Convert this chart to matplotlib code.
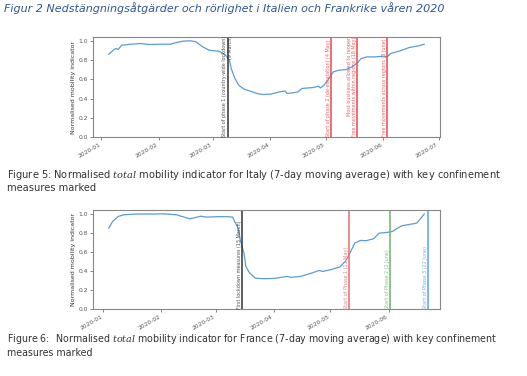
import matplotlib
matplotlib.use('Agg')
import matplotlib.pyplot as plt
import matplotlib.dates as mdates
import matplotlib.transforms as mtransforms
import pandas as pd

plt.rcParams['font.family'] = ['DejaVu Sans']
plt.rcParams['mathtext.fontset'] = 'dejavuserif'

# ── Data ──
italy_dates = ['2020-01-05', '2020-01-08', '2020-01-09', '2020-01-10', '2020-01-12',
               '2020-01-17', '2020-01-22', '2020-01-27', '2020-02-02', '2020-02-07',
               '2020-02-10', '2020-02-14', '2020-02-18', '2020-02-21', '2020-02-24',
               '2020-02-28', '2020-03-01', '2020-03-04', '2020-03-05', '2020-03-08',
               '2020-03-10', '2020-03-11', '2020-03-13', '2020-03-15', '2020-03-18',
               '2020-03-21', '2020-03-25', '2020-03-28', '2020-04-01', '2020-04-06',
               '2020-04-09', '2020-04-10', '2020-04-14', '2020-04-16', '2020-04-18',
               '2020-04-21', '2020-04-24', '2020-04-27', '2020-04-28', '2020-04-30',
               '2020-05-02', '2020-05-05', '2020-05-08', '2020-05-12', '2020-05-15',
               '2020-05-18', '2020-05-20', '2020-05-23', '2020-05-27', '2020-06-01',
               '2020-06-03', '2020-06-05', '2020-06-10', '2020-06-15', '2020-06-20',
               '2020-06-23']
italy_values = [0.861, 0.913, 0.920, 0.910, 0.955,
                0.965, 0.972, 0.962, 0.965, 0.965,
                0.980, 0.997, 1.000, 0.990, 0.945,
                0.903, 0.898, 0.893, 0.886, 0.851,
                0.800, 0.712, 0.608, 0.539, 0.497,
                0.479, 0.452, 0.442, 0.445, 0.469,
                0.479, 0.452, 0.462, 0.469, 0.504,
                0.510, 0.514, 0.528, 0.510, 0.539,
                0.591, 0.677, 0.695, 0.702, 0.729,
                0.771, 0.817, 0.833, 0.833, 0.840,
                0.833, 0.869, 0.896, 0.931, 0.948,
                0.965]

france_dates = ['2020-01-04', '2020-01-06', '2020-01-09', '2020-01-12', '2020-01-18',
                '2020-01-23', '2020-01-28', '2020-02-02', '2020-02-09', '2020-02-12',
                '2020-02-16', '2020-02-18', '2020-02-22', '2020-02-25', '2020-03-02',
                '2020-03-07', '2020-03-10', '2020-03-11', '2020-03-13', '2020-03-14',
                '2020-03-16', '2020-03-17', '2020-03-19', '2020-03-22', '2020-03-26',
                '2020-04-01', '2020-04-08', '2020-04-10', '2020-04-15', '2020-04-20',
                '2020-04-25', '2020-04-27', '2020-05-01', '2020-05-06', '2020-05-09',
                '2020-05-11', '2020-05-14', '2020-05-17', '2020-05-20', '2020-05-24',
                '2020-05-27', '2020-05-31', '2020-06-03', '2020-06-05', '2020-06-08',
                '2020-06-14', '2020-06-16', '2020-06-18', '2020-06-20']
france_values = [0.850, 0.919, 0.972, 0.990, 0.997,
                 0.998, 0.997, 1.000, 0.990, 0.972,
                 0.948, 0.955, 0.975, 0.965, 0.970,
                 0.970, 0.965, 0.919, 0.850, 0.727,
                 0.587, 0.447, 0.378, 0.325, 0.318,
                 0.321, 0.342, 0.332, 0.342, 0.370,
                 0.405, 0.395, 0.412, 0.441, 0.500,
                 0.570, 0.692, 0.720, 0.717, 0.738,
                 0.797, 0.804, 0.814, 0.839, 0.874,
                 0.895, 0.902, 0.948, 0.997]

italy_event_dates = ['2020-03-09', '2020-05-04', '2020-05-18', '2020-06-03']
italy_event_labels = ['Start of phase 1 (country-wide lockdown)\n(9 March)',
                      'Start of phase 2 (de-escalation) (4 May)',
                      'Most business allowed to reopen\nFree movements within regions (18 May)',
                      'Free movements across regions (3 June)']
italy_event_colors = ['#333333', '#e8484b', '#e8484b', '#e8484b']

france_event_dates = ['2020-03-15', '2020-05-11', '2020-06-02', '2020-06-22']
france_event_labels = ['First lockdown measures (15 March)',
                       'Start of Phase 1 (11 May)',
                       'Start of Phase 2 (2 June)',
                       'Start of Phase 3 (22 June)']
france_event_colors = ['#333333', '#ee6a6a', '#6ab46a', '#5aa2f0']

LINE_C = '#5b9bd5'
TXT = '#333333'


def _panel(ax, dates, values, ev_dates, ev_labels, ev_colors, ha_first='right'):
    ax.plot(pd.to_datetime(dates), values, color=LINE_C, lw=0.9)
    trans = mtransforms.blended_transform_factory(ax.transData, ax.transAxes)
    for i, (d, lab, c) in enumerate(zip(ev_dates, ev_labels, ev_colors)):
        dt = pd.Timestamp(d)
        ax.axvline(dt, color=c, lw=1.1)
        ha = ha_first if i == 0 else 'right'
        ax.text(dt, 0.005, lab, transform=trans, rotation=90, ha=ha, va='bottom',
                multialignment='right', fontsize=3.5, color=c, alpha=0.85)
    ax.set_ylim(0, 1.04)
    ax.set_yticks([0.0, 0.2, 0.4, 0.6, 0.8, 1.0])
    ax.set_ylabel('Normalised mobility indicator', fontsize=4.5, color=TXT, labelpad=2)
    ax.xaxis.set_major_locator(mdates.MonthLocator())
    ax.xaxis.set_major_formatter(mdates.DateFormatter('%Y-%m'))
    ax.tick_params(labelsize=4.3, length=2, width=0.5, pad=1.5, colors='#555555')
    for lab in ax.get_xticklabels():
        lab.set_rotation(30)
        lab.set_ha('right')
    for s in ax.spines.values():
        s.set_color('#888888')
        s.set_linewidth(0.8)


fig = plt.figure(figsize=(5.27, 3.76), dpi=100)
fig.patch.set_facecolor('white')

ax1 = fig.add_axes([0.1765, 0.6356, 0.6584, 0.2660])
_panel(ax1, italy_dates, italy_values, italy_event_dates, italy_event_labels,
       italy_event_colors, ha_first='center')

ax2 = fig.add_axes([0.1765, 0.1782, 0.6584, 0.2633])
_panel(ax2, france_dates, france_values, france_event_dates, france_event_labels,
       france_event_colors)

fig.text(0.008, 0.978, 'Figur 2 Nedstängningsåtgärder och rörlighet i Italien och Frankrike våren 2020',
         fontsize=8.0, style='italic', color='#2f5597', ha='left', va='center')

fig.text(0.014, 0.5346,
         r'Figure 5: Normalised $\mathit{total}$ mobility indicator for Italy (7-day moving average) with key confinement',
         fontsize=7.1, color=TXT, ha='left', va='center')
fig.text(0.014, 0.4995, 'measures marked', fontsize=7.1, color=TXT, ha='left', va='center')

fig.text(0.014, 0.0984,
         r'Figure 6:  Normalised $\mathit{total}$ mobility indicator for France (7-day moving average) with key confinement',
         fontsize=6.85, color=TXT, ha='left', va='center')
fig.text(0.014, 0.0620, 'measures marked', fontsize=6.85, color=TXT, ha='left', va='center')

fig.savefig('out.png', dpi=100, facecolor='white')
